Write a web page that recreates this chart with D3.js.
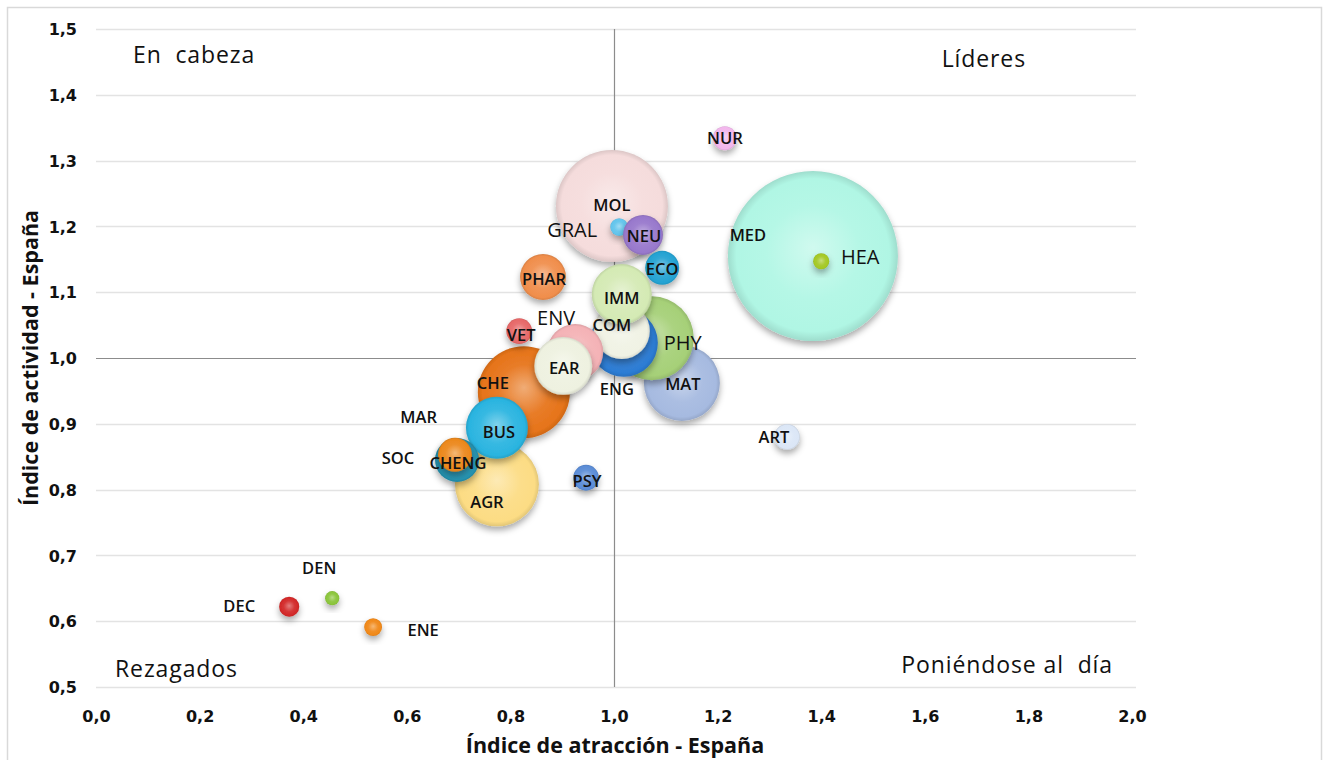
<!DOCTYPE html>
<html><head><meta charset="utf-8">
<script src="https://cdn.jsdelivr.net/npm/d3@7/dist/d3.min.js"></script>
<style>
body{margin:0;background:#fff;}
svg{display:block;}
text{white-space:pre;}
</style></head>
<body><svg id="c" width="1328" height="760"></svg>
<script>
// ---- data (draw order: back to front) ----
const codes      = ["MED","MOL","GRAL","NEU","ECO","PHAR","CHE","AGR","MAT","PHY","ENG","COM","IMM","ENV","VET","EAR","MAR","BUS","SOC","CHENG","PSY","NUR","HEA","ART","DEN","DEC","ENE"];
const attraction = [1.384,0.996,1.010,1.056,1.093,0.863,0.826,0.774,1.131,1.073,1.019,1.015,1.015,0.925,0.817,0.902,0.760,0.774,0.697,0.693,0.946,1.214,1.400,1.334,0.456,0.373,0.535];
const activity   = [1.155,1.231,1.199,1.187,1.137,1.123,0.948,0.808,0.962,1.030,1.023,1.041,1.097,1.009,1.041,0.988,0.890,0.894,0.845,0.853,0.818,1.334,1.147,0.880,0.635,0.622,0.591];
const volume     = [100,43.4,1.1,5.5,4.0,7.3,29.3,24.4,20.0,24.4,16.0,10.9,12.5,10.9,2.3,11.6,1.0,13.3,6.7,4.0,2.3,2.0,0.9,2.3,0.7,1.4,1.1];
const xTicks = [0,0.2,0.4,0.6,0.8,1.0,1.2,1.4,1.6,1.8,2.0];
const yTicks = [0.5,0.6,0.7,0.8,0.9,1.0,1.1,1.2,1.3,1.4,1.5];
const quadrantLabels = ["En  cabeza","Líderes","Rezagados","Poniéndose al  día"];

// ---- style / layout ----
const colors = {MED:"#b0f6e4",MOL:"#f5dcdc",GRAL:"#62c4ec",NEU:"#9878cc",ECO:"#24a2d2",PHAR:"#f08e4c",
  CHE:"#e6741a",AGR:"#fcdc84",MAT:"#a6bae0",PHY:"#a6d078",ENG:"#2c7cd4",COM:"#f0f2e4",IMM:"#d4eab4",
  ENV:"#f4b2b6",VET:"#e66868",EAR:"#eef1e0",MAR:"#2ab2e0",BUS:"#2ab4e0",SOC:"#2694b2",CHENG:"#ec881c",
  PSY:"#5a8cd6",NUR:"#f2b6ec",HEA:"#a4c824",ART:"#dbe6f6",DEN:"#8ac43a",DEC:"#d22828",ENE:"#f08818"};
const labelOff = {MED:[-65,-21],MOL:[0,-1],GRAL:[-47,3],NEU:[1,1],ECO:[0,1],PHAR:[1,2],CHE:[-31,-9],AGR:[-10,18],
  MAT:[1,1],PHY:[31,5],ENG:[-7,46],COM:[-10,-6],IMM:[0,4],ENV:[-19,-34],VET:[2,4],EAR:[1,2],MAR:[-71,-13],
  BUS:[2,4],SOC:[-59,-2],CHENG:[3,8],PSY:[1,3],NUR:[0,0],HEA:[39,-4],ART:[-13,0],DEN:[-13,-30],DEC:[-50,0],ENE:[50,3]};
const bigLabels = new Set(["GRAL","ENV","PHY","HEA"]);

const svg = d3.select("#c");
svg.append("rect").attr("x",7.5).attr("y",7.5).attr("width",1314).attr("height",770)
  .attr("fill","#fff").attr("stroke","#d9d9d9").attr("stroke-width",1.5);

const x = d3.scaleLinear().domain([0,2]).range([96,1132]);
const y = d3.scaleLinear().domain([0.5,1.5]).range([687,29]);
const r = d3.scaleSqrt().domain([0,100]).range([0,85]);

const defs = svg.append("defs");
const f = defs.append("filter").attr("id","sh").attr("x","-50%").attr("y","-50%").attr("width","200%").attr("height","200%");
f.append("feDropShadow").attr("dx",0).attr("dy",4).attr("stdDeviation",3).attr("flood-color","#000").attr("flood-opacity",0.33);

codes.forEach((c,i)=>{
  const base = d3.color(colors[c]);
  const g = defs.append("radialGradient").attr("id","g"+i).attr("cx","50%").attr("cy","50%").attr("r","50%")
    .attr("fx","50%").attr("fy","45%");
  g.append("stop").attr("offset","0%").attr("stop-color",d3.interpolateRgb(base,"#fff")(0.4));
  g.append("stop").attr("offset","55%").attr("stop-color",d3.interpolateRgb(base,"#fff")(0.06));
  g.append("stop").attr("offset","90%").attr("stop-color",base.formatHex());
  g.append("stop").attr("offset","100%").attr("stop-color",base.darker(0.3).formatHex());
});

// gridlines
svg.append("g").selectAll("line").data(yTicks).join("line")
  .attr("x1",x(0)).attr("x2",x(2)+4).attr("y1",d=>Math.round(y(d))+0.5).attr("y2",d=>Math.round(y(d))+0.5)
  .attr("stroke",d=>d===1.0?"#8c8c8c":"#e3e3e3").attr("stroke-width",d=>d===1.0?1.2:1.3);
svg.append("line").attr("x1",x(1)+0.5).attr("x2",x(1)+0.5).attr("y1",y(1.5)).attr("y2",y(0.5))
  .attr("stroke","#8c8c8c").attr("stroke-width",1.2);

// axes via d3
const fmt = d=>d3.format(".1f")(d).replace(".",",");
const xa = svg.append("g").attr("transform","translate(0,701)")
  .call(d3.axisBottom(x).tickValues(xTicks).tickFormat(fmt).tickSize(0).tickPadding(10));
const ya = svg.append("g").attr("transform","translate(77,0)")
  .call(d3.axisLeft(y).tickValues(yTicks).tickFormat(fmt).tickSize(0).tickPadding(0));
[xa,ya].forEach(a=>{
  a.select(".domain").remove();
  a.selectAll("text").attr("font-family","DejaVu Sans").attr("font-weight","bold").attr("font-size",16).attr("fill","#111");
});
ya.selectAll("text").attr("dy","0.35em");

// quadrant labels
const qpos = [[133,63,"start"],[1026,67,"end"],[115,677,"start"],[1113,673,"end"]];
quadrantLabels.forEach((t,i)=>{
  svg.append("text").attr("x",qpos[i][0]).attr("y",qpos[i][1]).attr("text-anchor",qpos[i][2])
    .attr("font-family","Open Sans").attr("font-size",23).attr("letter-spacing",0.9).attr("fill","#111").text(t);
});

// bubbles
const data = codes.map((c,i)=>({c,i,x:attraction[i],y:activity[i],v:volume[i]}));
svg.append("g").selectAll("circle").data(data).join("circle")
  .attr("cx",d=>x(d.x)).attr("cy",d=>y(d.y)).attr("r",d=>r(d.v))
  .attr("fill",d=>`url(#g${d.i})`).attr("filter","url(#sh)");

// labels
svg.append("g").selectAll("text").data(data).join("text")
  .attr("x",d=>x(d.x)+labelOff[d.c][0]).attr("y",d=>y(d.y)+labelOff[d.c][1])
  .attr("text-anchor","middle").attr("dy","0.35em")
  .attr("font-family","Open Sans").attr("font-size",d=>bigLabels.has(d.c)?20:16.5)
  .attr("font-weight",d=>bigLabels.has(d.c)?400:600)
  .attr("fill","#111").text(d=>d.c);

// axis titles
svg.append("text").attr("x",615).attr("y",753).attr("text-anchor","middle")
  .attr("font-family","Open Sans").attr("font-weight","bold").attr("font-size",21.5).attr("fill","#111")
  .text("Índice de atracción - España");
svg.append("text").attr("transform","translate(38,358) rotate(-90)").attr("text-anchor","middle")
  .attr("font-family","Open Sans").attr("font-weight","bold").attr("font-size",21.5).attr("fill","#111")
  .text("Índice de actividad - España");
</script></body></html>
